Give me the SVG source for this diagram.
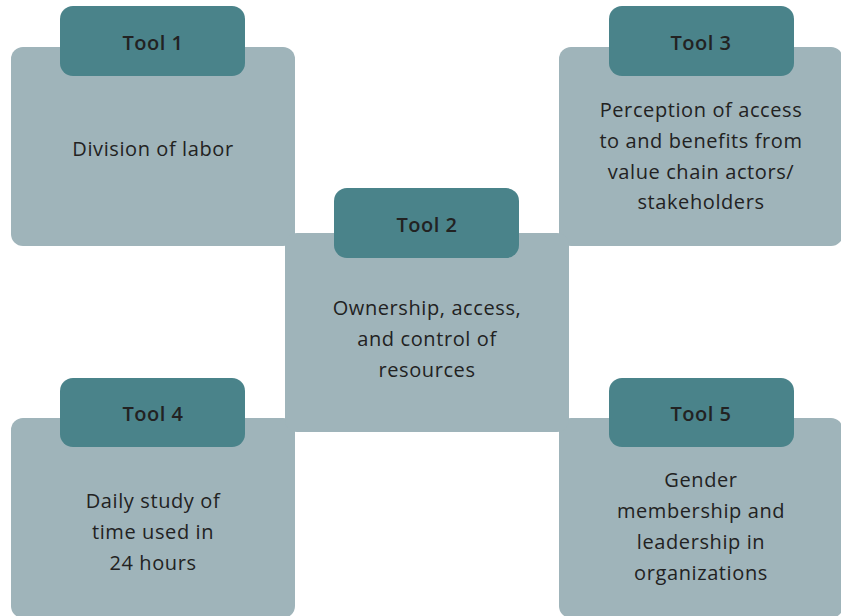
<svg xmlns="http://www.w3.org/2000/svg" width="841" height="616" viewBox="0 0 841 616">
<style>
.box{fill:#9fb4ba}
.hdr{fill:#4a838a}
.t{font-family:"Open Sans",Lato,sans-serif;font-size:20px;letter-spacing:0.6px;fill:#222222;text-anchor:middle}
.h{font-family:"Open Sans",Lato,sans-serif;font-size:20px;letter-spacing:0.5px;font-weight:600;fill:#222222;text-anchor:middle}
</style>
<rect width="841" height="616" fill="#ffffff"/>
<g id="connectors"></g>
<g id="tool1">
<rect class="box" x="11" y="47" width="284" height="199" rx="12"/>
<rect class="hdr" x="60" y="6" width="185" height="70" rx="13"/>
<text class="h" x="153" y="50">Tool 1</text>
<text class="t" x="153" y="156">Division of labor</text>
</g>
<g id="tool3">
<rect class="box" x="559" y="47" width="284" height="199" rx="12"/>
<rect class="hdr" x="609" y="6" width="185" height="70" rx="13"/>
<text class="h" x="701" y="50">Tool 3</text>
<text class="t" x="701" y="117">Perception of access</text>
<text class="t" x="701" y="148">to and benefits from</text>
<text class="t" x="701" y="179">value chain actors/</text>
<text class="t" x="701" y="209">stakeholders</text>
</g>
<g id="tool4">
<rect class="box" x="11" y="418" width="284" height="200" rx="12"/>
<rect class="hdr" x="60" y="378" width="185" height="69" rx="13"/>
<text class="h" x="153" y="421">Tool 4</text>
<text class="t" x="153" y="508">Daily study of</text>
<text class="t" x="153" y="539">time used in</text>
<text class="t" x="153" y="570">24 hours</text>
</g>
<g id="tool5">
<rect class="box" x="559" y="418" width="284" height="200" rx="12"/>
<rect class="hdr" x="609" y="378" width="185" height="69" rx="13"/>
<text class="h" x="701" y="421">Tool 5</text>
<text class="t" x="701" y="487">Gender</text>
<text class="t" x="701" y="518">membership and</text>
<text class="t" x="701" y="549">leadership in</text>
<text class="t" x="701" y="580">organizations</text>
</g>
<g id="tool2">
<rect class="box" x="285" y="233" width="284" height="199" rx="12"/>
<rect class="hdr" x="334" y="188" width="185" height="70" rx="13"/>
<text class="h" x="427" y="232">Tool 2</text>
<text class="t" x="427" y="315">Ownership, access,</text>
<text class="t" x="427" y="346">and control of</text>
<text class="t" x="427" y="377">resources</text>
</g>
</svg>
